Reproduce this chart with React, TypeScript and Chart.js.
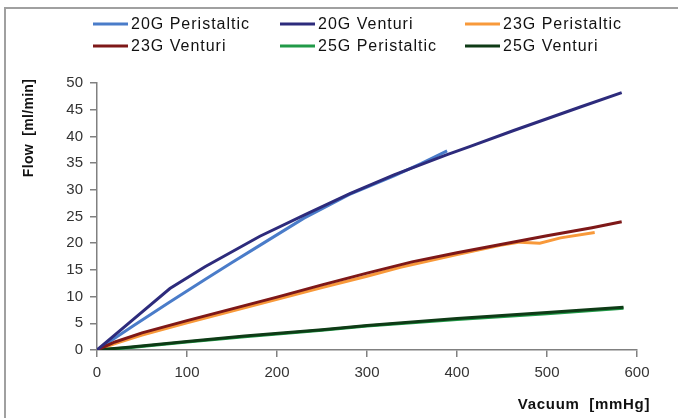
import React, { useEffect, useRef } from "react";
import { Chart, registerables } from "chart.js";

Chart.register(...registerables);

const xTicks = [0, 100, 200, 300, 400, 500, 600];
const yTicks = [0, 5, 10, 15, 20, 25, 30, 35, 40, 45, 50];

const seriesLabels = [
  "20G Peristaltic",
  "20G Venturi",
  "23G Peristaltic",
  "23G Venturi",
  "25G Peristaltic",
  "25G Venturi",
];
const seriesColors = ["#4A7CC9", "#2D2B7C", "#F8993A", "#7E1818", "#219A48", "#0E3B16"];

const vac20P = [0, 40, 80, 120, 150, 180, 230, 280, 330, 360, 389];
const flow20P = [0, 4.5, 8.9, 13.2, 16.4, 19.5, 24.7, 29.1, 32.6, 34.9, 37.3];

const vac20V = [0, 40, 81, 120, 181, 233, 281, 330, 389, 414, 463, 537, 583];
const flow20V = [0, 5.7, 11.5, 15.6, 21.3, 25.5, 29.3, 32.8, 36.6, 38.1, 41.1, 45.5, 48.2];

const vac23P = [0, 20, 50, 100, 150, 200, 250, 300, 337, 400, 448, 470, 492, 515, 553];
const flow23P = [0, 1.2, 2.8, 5.1, 7.3, 9.5, 11.7, 13.8, 15.5, 17.9, 19.6, 20.2, 20.0, 21.0, 22.0];

const vac23V = [0, 20, 50, 100, 150, 200, 250, 300, 350, 400, 450, 500, 550, 583];
const flow23V = [0, 1.5, 3.2, 5.5, 7.7, 9.9, 12.2, 14.4, 16.5, 18.2, 19.8, 21.4, 22.9, 24.0];

const vac25P = [0, 35, 100, 164, 250, 300, 400, 500, 585];
const flow25P = [0, 0.4, 1.5, 2.5, 3.7, 4.5, 5.7, 6.8, 7.8];

const vac25V = [0, 35, 100, 164, 250, 300, 400, 500, 585];
const flow25V = [0, 0.5, 1.6, 2.6, 3.8, 4.6, 5.9, 7.0, 8.0];

const xs = [vac20P, vac20V, vac23P, vac23V, vac25P, vac25V];
const ys = [flow20P, flow20V, flow23P, flow23V, flow25P, flow25V];

const xTitle = "Vacuum  [mmHg]";
const yTitle = "Flow  [ml/min]";

const decorPlugin = {
  id: "decor",
  afterDraw(chart: any) {
    const ctx = chart.ctx as CanvasRenderingContext2D;
    ctx.save();
    // frame
    ctx.strokeStyle = "#a0a0a0";
    ctx.lineWidth = 2;
    ctx.strokeRect(5, 8, 800, 800);

    // legend
    const colX = [93, 280, 465];
    const rowY = [24, 46];
    ctx.font = "16px 'Liberation Sans', Arial, sans-serif";
    (ctx as any).letterSpacing = "1px";
    ctx.textBaseline = "middle";
    ctx.textAlign = "left";
    chart.data.datasets.forEach((ds: any, i: number) => {
      const cx = colX[i % 3];
      const cy = rowY[Math.floor(i / 3)];
      ctx.strokeStyle = ds.borderColor;
      ctx.lineWidth = 3;
      ctx.beginPath();
      ctx.moveTo(cx, cy);
      ctx.lineTo(cx + 35, cy);
      ctx.stroke();
      ctx.fillStyle = "#111";
      ctx.fillText(ds.label, cx + 38, cy + 1);
    });

    // axis titles
    ctx.fillStyle = "#111";
    ctx.font = "bold 15px 'Liberation Sans', Arial, sans-serif";
    (ctx as any).letterSpacing = "0.7px";
    ctx.textAlign = "center";
    ctx.fillText(xTitle, 584, 405);

    ctx.font = "bold 14px 'Liberation Sans', Arial, sans-serif";
    (ctx as any).letterSpacing = "0.3px";
    ctx.translate(29, 128);
    ctx.rotate(-Math.PI / 2);
    ctx.fillText(yTitle, 0, 0);
    ctx.restore();
  },
};

export default function App() {
  const ref = useRef<HTMLCanvasElement | null>(null);

  useEffect(() => {
    if (!ref.current) return;
    const datasets = seriesLabels.map((label, i) => ({
      label,
      data: xs[i].map((x, j) => ({ x, y: ys[i][j] })),
      borderColor: seriesColors[i],
      backgroundColor: seriesColors[i],
      borderWidth: 3,
      pointRadius: 0,
      tension: 0,
      fill: false,
      order: label.includes("Venturi") ? 0 : 1,
    }));
    const chart = new Chart(ref.current, {
      type: "line",
      data: { datasets },
      plugins: [decorPlugin],
      options: {
        animation: false,
        responsive: false,
        layout: { padding: { top: 83, right: 41, left: 0, bottom: 0 } },
        plugins: {
          legend: { display: false },
          tooltip: { enabled: false },
          title: { display: false },
        },
        scales: {
          x: {
            type: "linear",
            min: 0,
            max: 600,
            afterBuildTicks: (s: any) => {
              s.ticks = xTicks.map((v) => ({ value: v }));
            },
            afterFit: (s: any) => {
              s.height = 68;
            },
            ticks: {
              color: "#333",
              font: { size: 15, family: "'Liberation Sans', Arial, sans-serif" },
              padding: 7,
              maxRotation: 0,
            },
            grid: {
              drawOnChartArea: false,
              drawTicks: true,
              tickLength: 7,
              color: "#808080",
              lineWidth: 1.5,
            },
            border: { display: true, color: "#808080", width: 1.5 },
          },
          y: {
            type: "linear",
            min: 0,
            max: 50,
            afterBuildTicks: (s: any) => {
              s.ticks = yTicks.map((v) => ({ value: v }));
            },
            afterFit: (s: any) => {
              s.width = 97;
            },
            ticks: {
              color: "#333",
              font: { size: 15, family: "'Liberation Sans', Arial, sans-serif" },
              padding: 7,
            },
            grid: {
              drawOnChartArea: false,
              drawTicks: true,
              tickLength: 7,
              color: "#808080",
              lineWidth: 1.5,
            },
            border: { display: true, color: "#808080", width: 1.5 },
          },
        },
      },
    });
    return () => chart.destroy();
  }, []);

  return (
    <div style={{ position: "absolute", left: 0, top: 0, width: 678, height: 418, background: "#fff" }}>
      <canvas ref={ref} width={678} height={418} style={{ display: "block" }} />
    </div>
  );
}
